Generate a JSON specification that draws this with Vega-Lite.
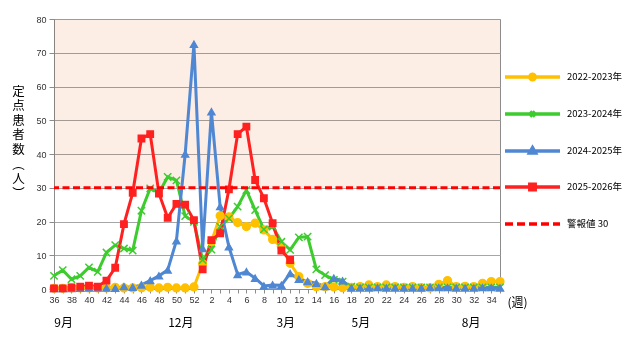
{
  "$schema": "https://vega.github.io/schema/vega-lite/v6.json",
  "width": 446,
  "height": 270,
  "autosize": "none",
  "padding": {"left": 54, "top": 19, "right": 129, "bottom": 49},
  "background": "white",
  "config": {
    "view": {"stroke": "#8c8c8c", "strokeWidth": 1},
    "font": "Liberation Sans",
    "axisY": {
      "values": [0, 10, 20, 30, 40, 50, 60, 70, 80],
      "labelFontSize": 9, "labelColor": "#333333", "labelPadding": 3,
      "tickSize": 5, "tickColor": "#8c8c8c", "domainColor": "#8c8c8c",
      "grid": true, "gridColor": "#a6a6a6", "gridWidth": 1
    }
  },
  "datasets": {
    "weeks": [
      {"w": 36, "2022-2023年": 0.2, "2023-2024年": 3.9, "2024-2025年": 0.1, "2025-2026年": 0.2},
      {"w": 37, "2022-2023年": 0.2, "2023-2024年": 5.6, "2024-2025年": 0.1, "2025-2026年": 0.2},
      {"w": 38, "2022-2023年": 0.3, "2023-2024年": 2.9, "2024-2025年": 0.1, "2025-2026年": 0.5},
      {"w": 39, "2022-2023年": 0.3, "2023-2024年": 3.9, "2024-2025年": 0.2, "2025-2026年": 0.7},
      {"w": 40, "2022-2023年": 0.3, "2023-2024年": 6.4, "2024-2025年": 0.3, "2025-2026年": 1.0},
      {"w": 41, "2022-2023年": 0.3, "2023-2024年": 5.1, "2024-2025年": 0.3, "2025-2026年": 0.7},
      {"w": 42, "2022-2023年": 0.3, "2023-2024年": 10.8, "2024-2025年": 0.3, "2025-2026年": 2.5},
      {"w": 43, "2022-2023年": 0.5, "2023-2024年": 13.0, "2024-2025年": 0.2, "2025-2026年": 6.3},
      {"w": 44, "2022-2023年": 0.3, "2023-2024年": 12.0, "2024-2025年": 0.7, "2025-2026年": 19.2},
      {"w": 45, "2022-2023年": 0.3, "2023-2024年": 11.4, "2024-2025年": 0.5, "2025-2026年": 28.5},
      {"w": 46, "2022-2023年": 0.4, "2023-2024年": 23.2, "2024-2025年": 1.2, "2025-2026年": 44.6},
      {"w": 47, "2022-2023年": 0.5, "2023-2024年": 29.8, "2024-2025年": 2.5, "2025-2026年": 45.9},
      {"w": 48, "2022-2023年": 0.3, "2023-2024年": 28.5, "2024-2025年": 3.9, "2025-2026年": 28.3},
      {"w": 49, "2022-2023年": 0.5, "2023-2024年": 33.2, "2024-2025年": 5.6, "2025-2026年": 21.1},
      {"w": 50, "2022-2023年": 0.3, "2023-2024年": 32.2, "2024-2025年": 14.3, "2025-2026年": 25.2},
      {"w": 51, "2022-2023年": 0.3, "2023-2024年": 21.6, "2024-2025年": 40.0, "2025-2026年": 25.0},
      {"w": 52, "2022-2023年": 0.6, "2023-2024年": 19.9, "2024-2025年": 72.5, "2025-2026年": 20.4},
      {"w": 1, "2022-2023年": 7.5, "2023-2024年": 8.6, "2024-2025年": 12.0, "2025-2026年": 5.8},
      {"w": 2, "2022-2023年": 14.0, "2023-2024年": 11.7, "2024-2025年": 52.5, "2025-2026年": 14.5},
      {"w": 3, "2022-2023年": 21.7, "2023-2024年": 18.5, "2024-2025年": 24.4, "2025-2026年": 16.5},
      {"w": 4, "2022-2023年": 21.4, "2023-2024年": 20.9, "2024-2025年": 12.5, "2025-2026年": 29.5},
      {"w": 5, "2022-2023年": 19.7, "2023-2024年": 24.4, "2024-2025年": 4.3, "2025-2026年": 45.9},
      {"w": 6, "2022-2023年": 18.5, "2023-2024年": 29.3, "2024-2025年": 5.1, "2025-2026年": 48.1},
      {"w": 7, "2022-2023年": 19.5, "2023-2024年": 23.4, "2024-2025年": 3.2, "2025-2026年": 32.3},
      {"w": 8, "2022-2023年": 17.5, "2023-2024年": 17.7, "2024-2025年": 0.9, "2025-2026年": 26.9},
      {"w": 9, "2022-2023年": 14.7, "2023-2024年": 18.5, "2024-2025年": 1.2, "2025-2026年": 19.5},
      {"w": 10, "2022-2023年": 12.5, "2023-2024年": 14.0, "2024-2025年": 1.1, "2025-2026年": 11.4},
      {"w": 11, "2022-2023年": 7.6, "2023-2024年": 11.6, "2024-2025年": 4.6, "2025-2026年": 8.6},
      {"w": 12, "2022-2023年": 3.7, "2023-2024年": 15.3, "2024-2025年": 2.9},
      {"w": 13, "2022-2023年": 1.7, "2023-2024年": 15.5, "2024-2025年": 2.2},
      {"w": 14, "2022-2023年": 0.7, "2023-2024年": 5.8, "2024-2025年": 1.7},
      {"w": 15, "2022-2023年": 0.7, "2023-2024年": 4.1, "2024-2025年": 0.7},
      {"w": 16, "2022-2023年": 0.6, "2023-2024年": 2.7, "2024-2025年": 3.2},
      {"w": 17, "2022-2023年": 0.4, "2023-2024年": 2.2, "2024-2025年": 2.4},
      {"w": 18, "2022-2023年": 0.5, "2023-2024年": 0.7, "2024-2025年": 0.3},
      {"w": 19, "2022-2023年": 0.7, "2023-2024年": 0.5, "2024-2025年": 0.3},
      {"w": 20, "2022-2023年": 1.2, "2023-2024年": 0.5, "2024-2025年": 0.3},
      {"w": 21, "2022-2023年": 0.7, "2023-2024年": 0.5, "2024-2025年": 0.4},
      {"w": 22, "2022-2023年": 1.2, "2023-2024年": 0.5, "2024-2025年": 0.3},
      {"w": 23, "2022-2023年": 0.7, "2023-2024年": 0.5, "2024-2025年": 0.3},
      {"w": 24, "2022-2023年": 0.5, "2023-2024年": 0.5, "2024-2025年": 0.3},
      {"w": 25, "2022-2023年": 0.7, "2023-2024年": 0.5, "2024-2025年": 0.3},
      {"w": 26, "2022-2023年": 0.4, "2023-2024年": 0.5, "2024-2025年": 0.3},
      {"w": 27, "2022-2023年": 0.3, "2023-2024年": 0.5, "2024-2025年": 0.5},
      {"w": 28, "2022-2023年": 1.4, "2023-2024年": 0.5, "2024-2025年": 0.4},
      {"w": 29, "2022-2023年": 2.5, "2023-2024年": 0.5, "2024-2025年": 0.4},
      {"w": 30, "2022-2023年": 0.7, "2023-2024年": 0.5, "2024-2025年": 0.3},
      {"w": 31, "2022-2023年": 0.8, "2023-2024年": 0.5, "2024-2025年": 0.3},
      {"w": 32, "2022-2023年": 0.7, "2023-2024年": 0.5, "2024-2025年": 0.3},
      {"w": 33, "2022-2023年": 1.7, "2023-2024年": 0.5, "2024-2025年": 0.4},
      {"w": 34, "2022-2023年": 2.2, "2023-2024年": 0.5, "2024-2025年": 0.4},
      {"w": 35, "2022-2023年": 2.2, "2023-2024年": 0.5, "2024-2025年": 0.3}
    ],
    "months": [
      {"m": "9月", "pos": 1.1},
      {"m": "12月", "pos": 14.5},
      {"m": "3月", "pos": 26.5},
      {"m": "5月", "pos": 35.1},
      {"m": "8月", "pos": 47.7}
    ]
  },
  "layer": [
    {
      "layer": [
        {
          "data": {"values": [{}]},
          "mark": {"type": "rect", "color": "#FCEDE5", "blend": "multiply"},
          "encoding": {
            "y": {"datum": 30, "type": "quantitative", "scale": {"domain": [0, 80], "nice": false}},
            "y2": {"datum": 80}
          }
        },
        {
          "data": {"name": "weeks"},
          "transform": [
            {"fold": ["2022-2023年", "2023-2024年", "2024-2025年", "2025-2026年"], "as": ["s", "v"]},
            {"filter": "isValid(datum.v)"}
          ],
          "layer": [
            {
              "mark": {"type": "line", "strokeWidth": 3},
              "encoding": {
                "x": {
                  "field": "w", "type": "ordinal",
                  "scale": {"type": "point", "padding": 0, "domain": [36,37,38,39,40,41,42,43,44,45,46,47,48,49,50,51,52,1,2,3,4,5,6,7,8,9,10,11,12,13,14,15,16,17,18,19,20,21,22,23,24,25,26,27,28,29,30,31,32,33,34,35]},
                  "axis": {
                    "title": "(週)", "titleX": 463, "titleY": 13, "titleAlign": "center", "titleBaseline": "middle",
                    "titleFont": "Noto Sans CJK JP", "titleFontSize": 12, "titleFontWeight": "normal", "titleColor": "#000000",
                    "labelExpr": "datum.value % 2 === 0 ? datum.label : ''",
                    "labelAngle": 0, "labelFontSize": 9, "labelColor": "#333333", "labelPadding": 2,
                    "tickSize": 4, "tickColor": "#8c8c8c", "domainColor": "#8c8c8c", "grid": false
                  }
                },
                "y": {
                  "field": "v", "type": "quantitative",
                  "scale": {"domain": [0, 80], "nice": false},
                  "axis": {
                    "title": ["定", "点", "患", "者", "数", "︵", "人", "︶"],
                    "titleAngle": 0, "titleX": -36, "titleY": 66, "titleAlign": "center", "titleBaseline": "top",
                    "titleFont": "Noto Sans CJK JP", "titleFontSize": 12.5, "titleFontWeight": "normal", "titleLineHeight": 14.6, "titleColor": "#000000"
                  }
                },
                "color": {
                  "field": "s", "type": "nominal",
                  "scale": {
                    "domain": ["2022-2023年", "2023-2024年", "2024-2025年", "2025-2026年", "警報値  30"],
                    "range": ["#FFC000", "#3DCC2E", "#4F87D3", "#FF2020", "#FF0000"]
                  },
                  "legend": {
                    "title": null, "orient": "none", "legendX": 466.5, "legendY": 46,
                    "padding": 0, "symbolSize": 400, "symbolStrokeWidth": 3.5, "rowPadding": 15,
                    "labelFont": "Noto Sans CJK JP", "labelFontSize": 9.5, "labelColor": "#000000", "labelOffset": 22.5,
                    "encode": {
                      "symbols": {
                        "update": {
                          "shape": {"signal": "datum.value === '2022-2023年' ? 'M-2.75,0H2.75M-0.27,0A0.27,0.27,0,1,0,0.27,0A0.27,0.27,0,1,0,-0.27,0Z' : datum.value === '2023-2024年' ? 'M-2.75,0H2.75M-0.25,-0.25L0.25,0.25M-0.25,0.25L0.25,-0.25' : datum.value === '2024-2025年' ? 'M-2.75,0H2.75M0,-0.33L0.3,0.2L-0.3,0.2Z' : datum.value === '2025-2026年' ? 'M-2.75,0H2.75M-0.27,-0.27H0.27V0.27H-0.27Z' : 'M-2.75,0H2.75'"},
                          "strokeDash": {"signal": "datum.value === '警報値  30' ? [8, 4] : null"},
                          "fill": {"signal": "scale('color', datum.value)"},
                          "stroke": {"signal": "scale('color', datum.value)"},
                          "strokeWidth": {"value": 3.5},
                          "opacity": {"value": 1}
                        }
                      }
                    }
                  }
                }
              }
            },
            {
              "mark": {"type": "point", "filled": true, "opacity": 1, "strokeWidth": 1.5},
              "encoding": {
                "x": {"field": "w", "type": "ordinal"},
                "y": {"field": "v", "type": "quantitative"},
                "color": {"field": "s", "type": "nominal"},
                "stroke": {
                  "field": "s", "type": "nominal", "legend": null,
                  "scale": {"domain": ["2022-2023年", "2023-2024年", "2024-2025年", "2025-2026年"], "range": ["#FFC000", "#3DCC2E", "#4F87D3", "#FF2020"]}
                },
                "shape": {
                  "field": "s", "type": "nominal", "legend": null,
                  "scale": {"domain": ["2022-2023年", "2023-2024年", "2024-2025年", "2025-2026年"], "range": ["circle", "M-1,-1L1,1M-1,1L1,-1", "triangle-up", "square"]}
                },
                "size": {
                  "field": "s", "type": "nominal", "legend": null,
                  "scale": {"domain": ["2022-2023年", "2023-2024年", "2024-2025年", "2025-2026年"], "range": [60, 40, 70, 80]}
                }
              }
            }
          ]
        },
        {
          "data": {"values": [{}]},
          "mark": {"type": "rule", "strokeWidth": 3, "strokeDash": [7, 3.5]},
          "encoding": {
            "y": {"datum": 30, "type": "quantitative"},
            "color": {"datum": "警報値  30", "type": "nominal"}
          }
        }
      ]
    },
    {
      "data": {"name": "months"},
      "mark": {"type": "text", "font": "Noto Sans CJK JP", "fontSize": 12, "baseline": "middle", "align": "center", "color": "#000000", "clip": false},
      "encoding": {
        "x": {"field": "pos", "type": "quantitative", "scale": {"domain": [0, 51], "nice": false, "zero": false}, "axis": null},
        "y": {"datum": -10, "type": "quantitative"},
        "text": {"field": "m"}
      }
    }
  ],
  "resolve": {"scale": {"x": "independent"}, "axis": {"x": "independent"}}
}
